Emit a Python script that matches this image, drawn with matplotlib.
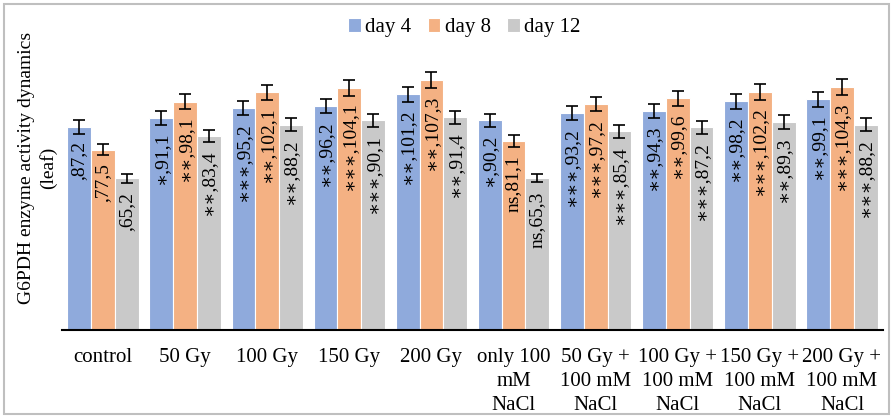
import matplotlib
matplotlib.use("Agg")
import matplotlib.pyplot as plt
from matplotlib.patches import Rectangle
import numpy as np

plt.rcParams['font.family'] = ['Liberation Serif', 'DejaVu Serif']

# treatments (x categories)
groups = ["control", "50 Gy", "100 Gy", "150 Gy", "200 Gy",
          "only 100\nmM\nNaCl", "50 Gy +\n100 mM\nNaCl", "100 Gy +\n100 mM\nNaCl",
          "150 Gy +\n100 mM\nNaCl", "200 Gy +\n100 mM\nNaCl"]
series = ["day 4", "day 8", "day 12"]

day4 = [87.2, 91.1, 95.2, 96.2, 101.2, 90.2, 93.2, 94.3, 98.2, 99.1]
day8 = [77.5, 98.1, 102.1, 104.1, 107.3, 81.1, 97.2, 99.6, 102.2, 104.3]
day12 = [65.2, 83.4, 88.2, 90.1, 91.4, 65.3, 85.4, 87.2, 89.3, 88.2]

# error bars
err4 = [2.9, 2.9, 3.0, 3.0, 3.3, 2.8, 3.0, 3.0, 3.2, 3.2]
err8 = [2.4, 3.1, 3.3, 3.4, 3.4, 2.6, 3.1, 3.2, 3.3, 3.4]
err12 = [1.9, 2.6, 2.8, 2.9, 2.9, 1.9, 2.7, 2.8, 2.9, 2.8]

# significance marks
sig4 = ["", "*", "***", "**", "**", "*", "***", "**", "**", "**"]
sig8 = ["", "**", "**", "***", "**", "ns", "***", "**", "***", "***"]
sig12 = ["", "**", "**", "***", "**", "ns", "***", "***", "**", "***"]

colors = ["#8FAADC", "#F4B183", "#C9C9C9"]

fig = plt.figure(figsize=(8.93, 4.17), dpi=100)
ax = fig.add_axes([62/893, 87/417, 821/893, 290/417])

x = np.arange(len(groups))
w = 0.29
data = [(day4, err4, sig4), (day8, err8, sig8), (day12, err12, sig12)]
for i, (vals, errs, sigs) in enumerate(data):
    xs = x + (i - 1) * w
    ax.bar(xs, vals, w, color=colors[i], edgecolor='white', linewidth=0.8,
           label=series[i], zorder=2)
    ax.errorbar(xs, vals, yerr=errs, fmt='none', ecolor='black',
                elinewidth=1.2, capsize=4.5, capthick=1.2, zorder=3)
    for xi, v, s in zip(xs, vals, sigs):
        # centred asterisk looks closer to the Times glyph when rotated
        lab = s.replace('*', '\u2217') + "," + f"{v:.1f}".replace('.', ',')
        ax.annotate(lab, (xi, v), xytext=(0, -10), textcoords='offset points',
                    rotation=90, ha='center', va='top', fontsize=14, zorder=4)

ax.set_xlim(-0.5, len(groups) - 0.5)
ax.set_ylim(0, 124.6)
ax.set_xticks(x)
ax.set_xticklabels(groups, fontsize=15, linespacing=1.35)
ax.tick_params(axis='x', length=0, pad=13)
ax.yaxis.set_visible(False)
for sp in ['top', 'right', 'left']:
    ax.spines[sp].set_visible(False)
ax.spines['bottom'].set_linewidth(1.5)

fig.legend(loc='center', bbox_to_anchor=(0.52, 0.933), ncol=3, frameon=False,
           fontsize=15, handlelength=0.6, handleheight=0.6, handletextpad=0.2,
           columnspacing=0.8)

fig.text(0.042, 1 - 168/417, "G6PDH enzyme activity dynamics\n(leaf)",
         rotation=90, ha='center', va='center', multialignment='center',
         fontsize=14, linespacing=1.35)

fig.patches.append(Rectangle((4/893, 3/417), 885/893, 410/417, transform=fig.transFigure,
                             fill=False, edgecolor='#BFBFBF', linewidth=1.5))

fig.savefig("out.png", dpi=100)
